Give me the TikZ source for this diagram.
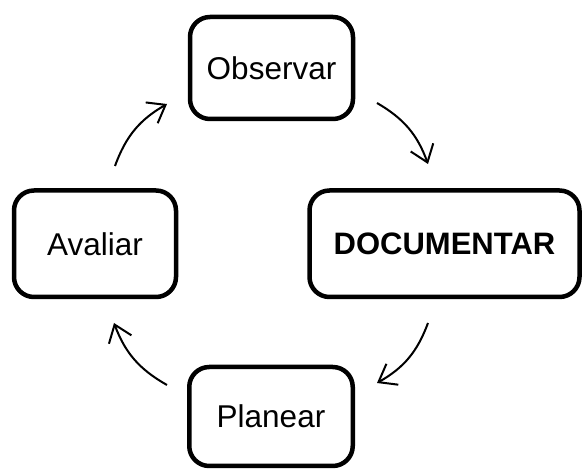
\documentclass[tikz,border=0pt]{standalone}
\usepackage{fontspec}
\setmainfont{Liberation Sans}
\usetikzlibrary{arrows.meta}
\begin{document}
\begin{tikzpicture}[x=1pt,y=-1pt,
  stepbox/.style={draw=black,line width=4.5pt,rounded corners=20pt,fill=white,
    inner sep=0pt,font=\fontsize{31.5}{37}\selectfont},
  cyc/.style={line width=2pt,-{Straight Barb[length=16pt,width=24pt,line width=2pt]}}]
\useasboundingbox (0,0) rectangle (582,470);
\node[stepbox,minimum width=163pt,minimum height=102pt] (obs) at (271.5,68) {Observar};
\node[stepbox,minimum width=270pt,minimum height=106.5pt,font=\fontsize{31}{37}\selectfont\bfseries] (doc) at (444.5,243.75) {DOCUMENTAR};
\node[stepbox,minimum width=162pt,minimum height=106.5pt] (ava) at (95,243.75) {Avaliar};
\node[stepbox,minimum width=163.5pt,minimum height=99pt] (pla) at (271,416.5) {Planear};
\coordinate (a1) at (377,103);
\coordinate (a2) at (428,164);
\coordinate (b1) at (428,323);
\coordinate (b2) at (377,383);
\coordinate (c1) at (167,385);
\coordinate (c2) at (114,323);
\coordinate (d1) at (115,166);
\coordinate (d2) at (167,104);
\draw[cyc] (a1) to[bend left=20] (a2);
\draw[cyc] (b1) to[bend left=20] (b2);
\draw[cyc] (c1) to[bend left=20] (c2);
\draw[cyc] (d1) to[bend left=20] (d2);
\end{tikzpicture}
\end{document}
